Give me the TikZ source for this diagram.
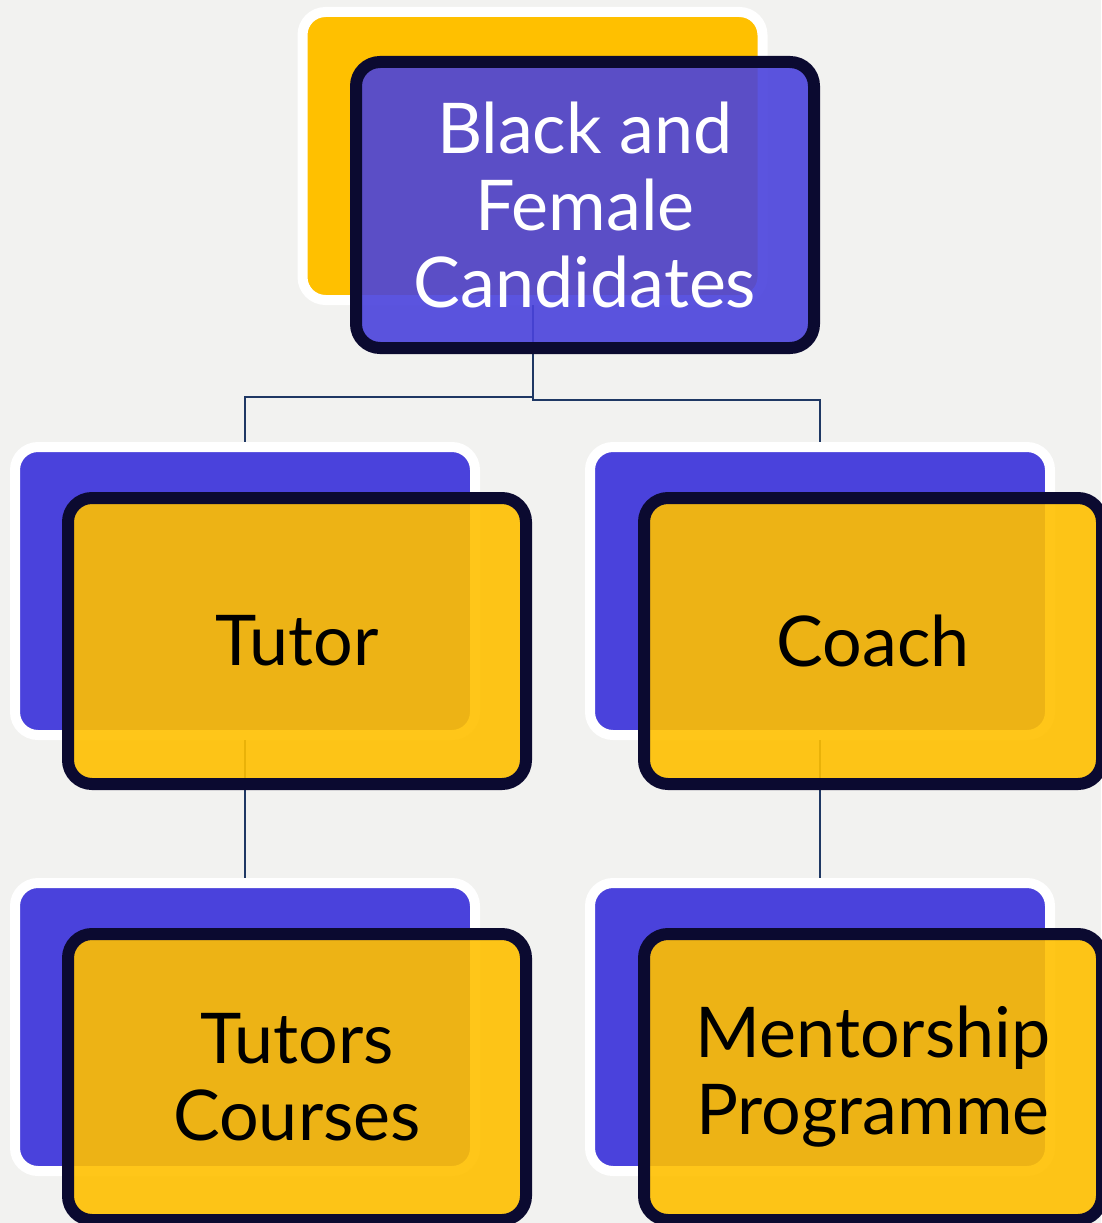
\documentclass[tikz,border=0pt]{standalone}
\usepackage{fontspec}
\setmainfont{Lato}
\usepackage{xcolor}
\usetikzlibrary{shapes,arrows,positioning}
\definecolor{bggrey}{HTML}{F2F2F0}
\definecolor{boxgold}{HTML}{FFC000}
\definecolor{boxblue}{HTML}{4A42DC}
\definecolor{inkline}{HTML}{0B0A30}
\definecolor{linknavy}{HTML}{1F3864}
\tikzstyle{backbox} = [rectangle, rounded corners=23pt, minimum width=460pt, minimum height=288pt, draw=white, line width=10pt]
\tikzstyle{frontbox} = [rectangle, rounded corners=24pt, minimum width=458pt, minimum height=286pt, draw=inkline, line width=12pt, fill opacity=0.9, text opacity=1, align=center, inner sep=0pt, font=\fontsize{70}{77}\selectfont]
\tikzstyle{link} = [linknavy, line width=2pt]

\begin{document}
\begin{tikzpicture}[x=1pt, y=1pt]
        \useasboundingbox (0,0) rectangle (1101,-1223);
        \fill [bggrey] (0,0) rectangle (1101,-1223);

        % Back cards
        \node (cand_back) [backbox, fill=boxgold] at (532.5,-156) {};
        \node (tutor_back) [backbox, fill=boxblue] at (245,-591) {};
        \node (coach_back) [backbox, fill=boxblue] at (820,-591) {};
        \node (courses_back) [backbox, fill=boxblue] at (245,-1027) {};
        \node (mentor_back) [backbox, fill=boxblue] at (820,-1027) {};

        % Connections between cards
        \draw [link] (cand_back.south) -- ++(0,-92) -| (tutor_back.north);
        \draw [link] (cand_back.south) -- ++(0,-95) -| (coach_back.north);
        \draw [link] (tutor_back.south) -- (courses_back.north);
        \draw [link] (coach_back.south) -- (mentor_back.north);

        % Front cards with labels
        \node (cand) [frontbox, fill=boxblue, text=white, xshift=52.5pt, yshift=-49pt] at (cand_back) {Black and\\Female\\Candidates};
        \node (tutor) [frontbox, fill=boxgold, xshift=52pt, yshift=-50pt] at (tutor_back) {Tutor};
        \node (coach) [frontbox, fill=boxgold, xshift=53pt, yshift=-50pt] at (coach_back) {Coach};
        \node (courses) [frontbox, fill=boxgold, xshift=52pt, yshift=-50pt] at (courses_back) {Tutors\\Courses};
        \node (mentor) [frontbox, fill=boxgold, xshift=53pt, yshift=-50pt] at (mentor_back) {Mentorship\\Programme};
    \end{tikzpicture}
\end{document}
